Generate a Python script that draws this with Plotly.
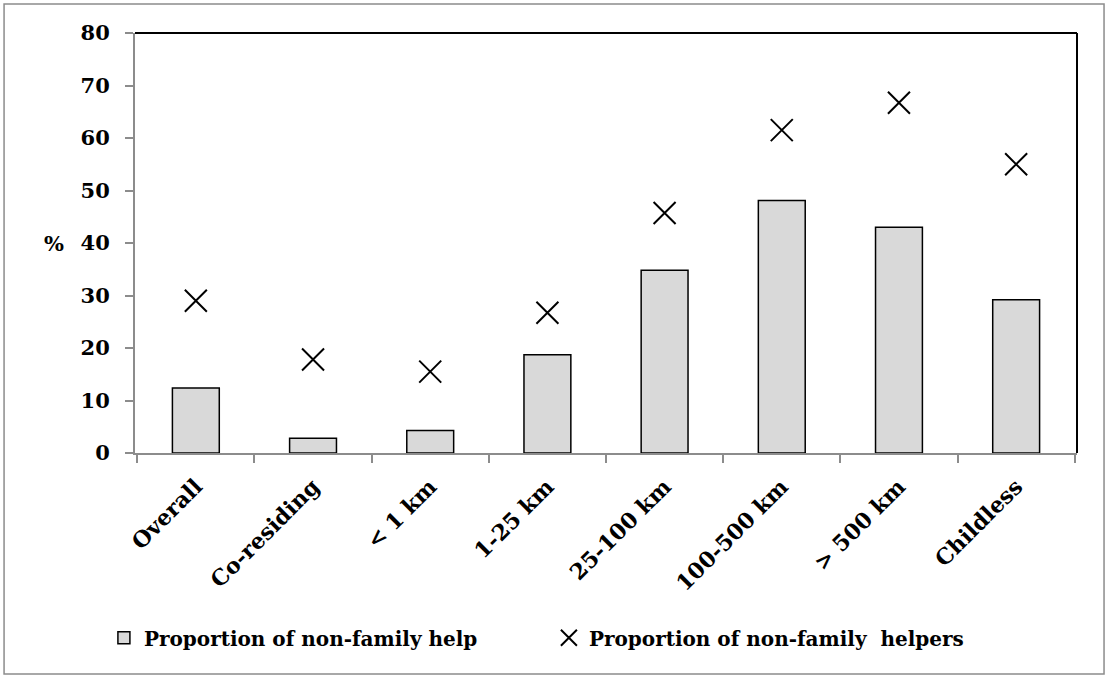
import plotly.graph_objects as go

categories = ["Overall", "Co-residing", "< 1 km", "1-25 km", "25-100 km", "100-500 km", "> 500 km", "Childless"]
help_pct = [12.4, 2.8, 4.3, 18.7, 34.8, 48.1, 43.0, 29.2]
helpers_pct = [29.0, 17.8, 15.5, 26.7, 45.7, 61.5, 66.7, 55.0]
y_ticks = [0, 10, 20, 30, 40, 50, 60, 70, 80]

FONT = "DejaVu Serif"

fig = go.Figure()
fig.add_trace(go.Bar(
    x=categories, y=help_pct, name="<b>Proportion of non-family help</b>",
    marker=dict(color="#d9d9d9", line=dict(color="black", width=1.5)),
    width=0.4,
))
fig.add_trace(go.Scatter(
    x=categories, y=helpers_pct, mode="markers", name="<b>Proportion of non-family  helpers</b>",
    marker=dict(symbol="x-thin", size=22, line=dict(color="black", width=2), color="black"),
))

fig.update_layout(
    width=1108, height=678,
    margin=dict(l=135, r=31, t=33, b=225),
    paper_bgcolor="white", plot_bgcolor="white",
    font=dict(family=FONT, color="black"),
    showlegend=True,
    legend=dict(orientation="h", x=-0.033, xanchor="left", y=-0.44, yanchor="middle",
                font=dict(family=FONT, size=20, color="black"), entrywidth=400,
                bgcolor="rgba(0,0,0,0)"),
    xaxis=dict(
        type="category", showline=True, linecolor="#8c8c8c", linewidth=2,
        ticks="outside", tickson="boundaries", ticklen=8, tickcolor="#8c8c8c", tickwidth=2,
        tickangle=-45, tickfont=dict(family=FONT, size=22, color="black"),
        ticktext=["<b>%s</b>" % c for c in categories], tickvals=categories,
        ticklabelstandoff=10,
        showgrid=False, zeroline=False,
    ),
    yaxis=dict(
        range=[0, 80], tickvals=y_ticks, ticktext=["<b>%d</b>" % v for v in y_ticks],
        showline=True, linecolor="#8c8c8c", linewidth=2,
        ticks="outside", ticklen=8, tickcolor="#8c8c8c", tickwidth=2,
        tickfont=dict(family=FONT, size=21, color="black"), ticklabelstandoff=11,
        showgrid=False, zeroline=False,
    ),
)

# top and right black frame lines
fig.add_shape(type="line", xref="paper", yref="paper", x0=0, x1=1, y0=1, y1=1,
              line=dict(color="black", width=2))
fig.add_shape(type="line", xref="paper", yref="paper", x0=1, x1=1, y0=0, y1=1,
              line=dict(color="black", width=2))
# outer chart border
fig.add_shape(type="rect", xref="paper", yref="paper", x0=-0.139, x1=1.0287, y0=-0.526, y1=1.069,
              line=dict(color="#8c8c8c", width=1.5), layer="below")

fig.add_annotation(text="<b>%</b>", xref="paper", yref="paper", x=-0.086, y=0.5,
                   xanchor="center", yanchor="middle",
                   showarrow=False, font=dict(family=FONT, size=21, color="black"))

fig.write_html("out.html", config={"displayModeBar": False},
               post_script="document.body.style.margin='0';")
